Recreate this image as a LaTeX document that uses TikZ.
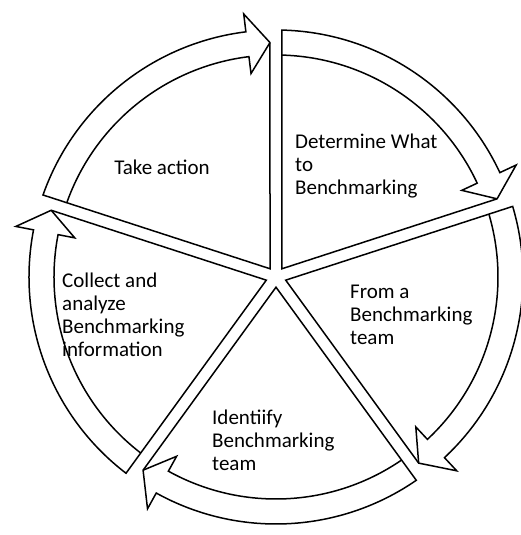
\documentclass[tikz,border=0pt]{standalone}
\usepackage{fontspec}
\setmainfont{Carlito}

\begin{document}
\begin{tikzpicture}[x=1pt, y=1pt,
		stage/.style={draw, line width=1.5pt, fill=white, line join=miter},
		rim/.style={draw, line width=1.5pt},
		stage text/.style={font=\fontsize{21}{23}\selectfont, align=left, inner sep=0pt}]
		
		\useasboundingbox (-276,-258) rectangle (244,277);
		
		% five slices, each ends in an arrow pointing clockwise
		\foreach \a in {162, 90, 18, -54, -126} {
			\pgfmathsetmacro{\b}{\a-72}
			\path[stage] (\a-36:10.2) -- (\a-1.39:247)
				arc[start angle=\a-1.39, end angle=\b+7, radius=247]
				-- (\b+7:265) -- (\b+1.47:234.5) -- cycle;
			\path[rim] (\a-1.55:222)
				arc[start angle=\a-1.55, end angle=\b+7, radius=222]
				-- (\b+7:205) -- (\b+1.47:234.5);
		}
		
		\node[stage text]              (take action) at (-114,110) {Take action};
		\node[stage text, anchor=west] (determine)   at (19,111)   {Determine What\\to\\Benchmarking};
		\node[stage text, anchor=west] (form team)   at (74,-38)   {From a\\Benchmarking\\team};
		\node[stage text, anchor=west] (identify)    at (-64,-163) {Identiify\\Benchmarking\\team};
		\node[stage text, anchor=west] (collect)     at (-214,-38) {Collect and\\analyze\\Benchmarking\\information};
		
	\end{tikzpicture}
\end{document}
